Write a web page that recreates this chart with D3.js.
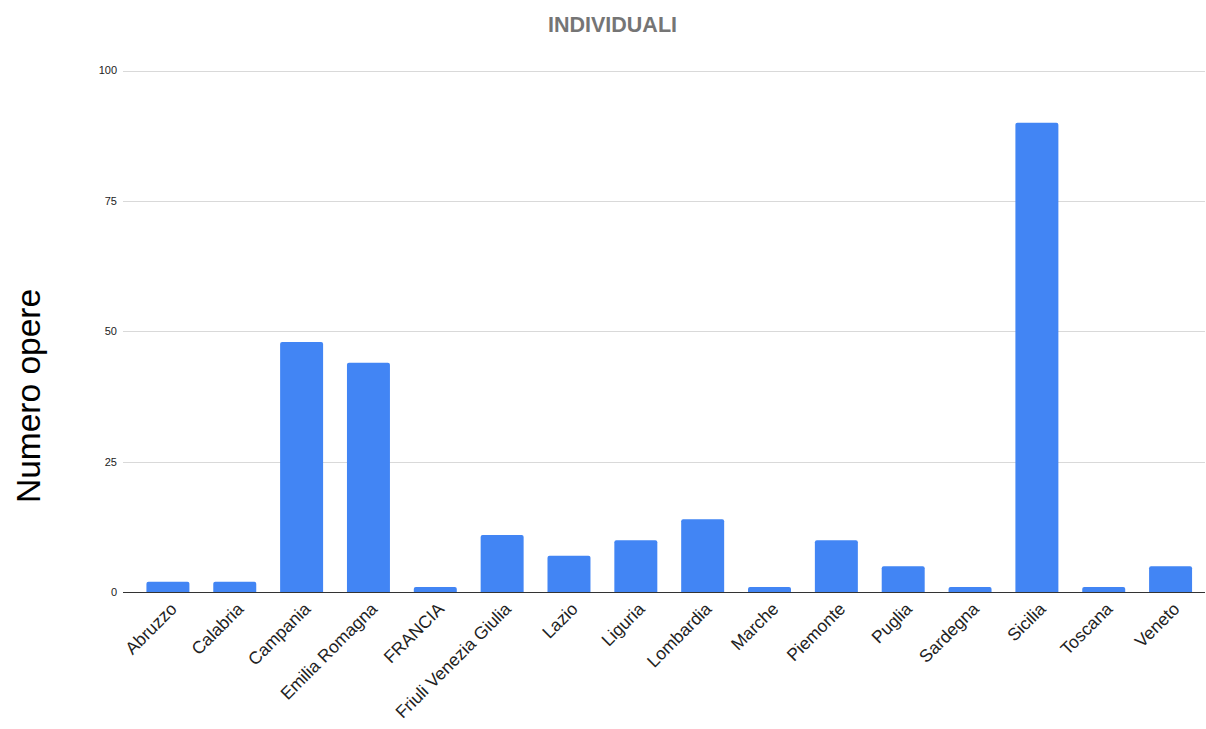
<!DOCTYPE html>
<html><head><meta charset="utf-8">
<script src="https://cdn.jsdelivr.net/npm/d3@7"></script>
<style>body{margin:0;background:#fff}svg{display:block}</style>
</head><body>
<svg id="c" width="1206" height="729"></svg>
<script>
const categories = ["Abruzzo","Calabria","Campania","Emilia Romagna","FRANCIA","Friuli Venezia Giulia","Lazio","Liguria","Lombardia","Marche","Piemonte","Puglia","Sardegna","Sicilia","Toscana","Veneto"];
const values = [2,2,48,44,1,11,7,10,14,1,10,5,1,90,1,5];
const yTicks = [0,25,50,75,100];
const title = "INDIVIDUALI";
const yLabel = "Numero opere";

const svg = d3.select("#c");
const font = "Arial, 'Liberation Sans', sans-serif";
const x = d3.scaleBand().domain(categories).range([134.5, 1204]).paddingInner(0.357).paddingOuter(0.1785);
const y = d3.scaleLinear().domain([0,100]).range([592.3, 70.6]);

// gridlines
svg.append("g").selectAll("line").data(yTicks.filter(d=>d>0)).join("line")
  .attr("x1",123).attr("x2",1205).attr("y1",d=>Math.round(y(d))+0.5).attr("y2",d=>Math.round(y(d))+0.5)
  .attr("stroke","#d9d9d9").attr("stroke-width",1);

// y tick labels
svg.append("g").selectAll("text").data(yTicks).join("text")
  .attr("x",117).attr("y",d=>y(d)).attr("dy","0.35em").attr("text-anchor","end")
  .attr("font-family",font).attr("font-size",11).attr("fill","#222").text(d=>d);

// bars
svg.append("g").selectAll("path").data(categories).join("path")
  .attr("fill","#4285F4")
  .attr("d",(c,i)=>{
    const x0=x(c), w=x.bandwidth(), y0=y(values[i]), yb=y(0), r=Math.min(2,(yb-y0)/2);
    return `M${x0},${yb}V${y0+r}Q${x0},${y0} ${x0+r},${y0}H${x0+w-r}Q${x0+w},${y0} ${x0+w},${y0+r}V${yb}Z`;
  });

// baseline
svg.append("line").attr("x1",123).attr("x2",1205).attr("y1",592.5).attr("y2",592.5)
  .attr("stroke","#333").attr("stroke-width",1);

// x labels
svg.append("g").selectAll("text").data(categories).join("text")
  .attr("transform",c=>`translate(${x(c)+x.bandwidth()/2+10},${610}) rotate(-45)`)
  .attr("text-anchor","end").attr("font-family",font).attr("font-size",17.5).attr("fill","#222")
  .text(c=>c);

// title
svg.append("text").attr("x",612.5).attr("y",32).attr("text-anchor","middle")
  .attr("font-family",font).attr("font-weight","bold").attr("font-size",21.5).attr("fill","#757575").text(title);

// y axis label
svg.append("text").attr("transform","translate(40,396) rotate(-90)").attr("text-anchor","middle")
  .attr("font-family",font).attr("font-size",33.5).attr("fill","#000").text(yLabel);
</script>
</body></html>
